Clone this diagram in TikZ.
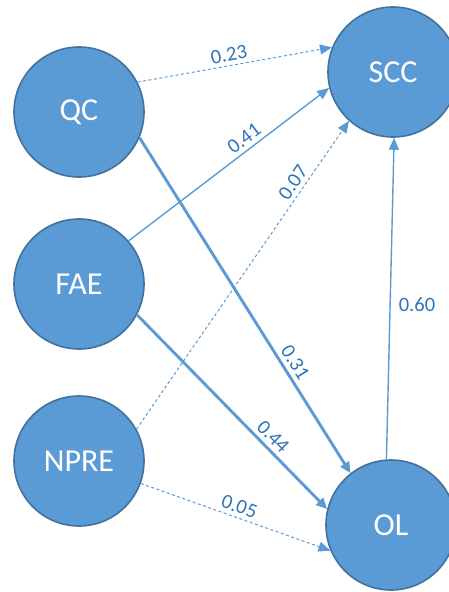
\documentclass[tikz,border=0pt]{standalone}
\usepackage{fontspec}
\setmainfont{Carlito}
\usetikzlibrary{arrows.meta}
\definecolor{nodefill}{HTML}{5B9BD5}
\definecolor{nodeedge}{HTML}{41719C}
\definecolor{edgecol}{HTML}{5B9BD5}
\definecolor{labcol}{HTML}{2E75B6}
\tikzset{
  var/.style={circle, minimum size=130pt, inner sep=0pt, fill=nodefill, draw=nodeedge, line width=1.6pt, text=white, font=\fontsize{32}{36}\selectfont},
  paththin/.style={draw=edgecol, line width=1.4pt, -{Triangle[length=12pt,width=10pt]}},
  paththick/.style={draw=edgecol, line width=2.9pt, -{Triangle[length=11pt,width=10pt]}},
  pathdash/.style={draw=edgecol, line width=1pt, dash pattern=on 3pt off 2.5pt, -{Triangle[length=12pt,width=10pt]}},
  lab/.style={text=labcol, font=\fontsize{20.5}{22}\selectfont, inner sep=4pt}
}
\begin{document}
\begin{tikzpicture}[x=1pt,y=-1pt]
\useasboundingbox (0,0) rectangle (448,592);
\node[var] (QC) at (79,112) {QC};
\node[var] (FAE) at (79,284) {FAE};
\node[var] (NPRE) at (79,461) {NPRE};
\node[var] (SCC) at (393,72) {SCC};
\node[var] (OL) at (391,525) {OL};

\draw[pathdash] (QC.27) -- node[lab, pos=0.48, sloped, above] {0.23} (SCC.158);
\draw[paththin] (FAE.41) -- node[lab, pos=0.61, sloped, above] {0.41} (SCC.194);
\draw[pathdash] (NPRE.29) -- node[lab, pos=0.78, sloped, above] {0.07} (SCC.228);
\draw[paththick] (QC.-23) -- node[lab, pos=0.69, sloped, above] {0.31} (OL.128);
\draw[paththick] (FAE.-28) -- node[lab, pos=0.67, sloped, above] {0.44} (OL.166);
\draw[pathdash] (NPRE.-20) -- node[lab, pos=0.5, sloped, above] {0.05} (OL.203);
\draw[paththin] (OL.94) -- node[lab, pos=0.48, right=4pt] {0.60} (SCC.-89);
\end{tikzpicture}
\end{document}
